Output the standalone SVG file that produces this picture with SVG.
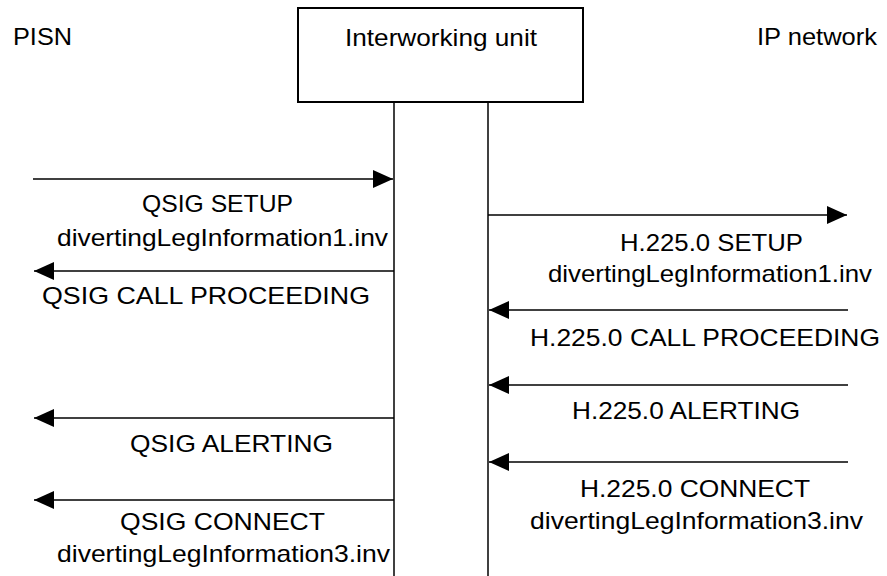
<svg xmlns="http://www.w3.org/2000/svg" width="887" height="576" viewBox="0 0 887 576">
<style>
text{font-family:"Liberation Sans",Arial,sans-serif;font-size:24px;fill:#000}
.ln{stroke:#000;stroke-width:1.5;fill:none}
.box{stroke:#000;stroke-width:2;fill:#fff}
</style>
<defs>
<marker id="ah" markerUnits="userSpaceOnUse" markerWidth="20" markerHeight="20" viewBox="0 0 20 20" refX="20" refY="10" orient="auto">
<path d="M0,1 L20,10 L0,19 Z" fill="#000"/>
</marker>
</defs>
<rect width="887" height="576" fill="#fff"/>
<g id="pisn"><text x="13" y="45" textLength="59" lengthAdjust="spacingAndGlyphs">PISN</text></g>
<g id="ipnet"><text x="757" y="45" textLength="120" lengthAdjust="spacingAndGlyphs">IP network</text></g>
<g id="iwu">
<rect class="box" x="298" y="8" width="285" height="94"/>
<text x="345" y="46" textLength="192" lengthAdjust="spacingAndGlyphs">Interworking unit</text>
</g>
<g id="lifelines">
<line class="ln" x1="394" y1="102" x2="394" y2="576"/>
<line class="ln" x1="488" y1="102" x2="488" y2="576"/>
</g>
<g id="connectors">
<line class="ln" x1="33" y1="179" x2="393" y2="179" marker-end="url(#ah)"/>
<line class="ln" x1="394" y1="271" x2="34" y2="271" marker-end="url(#ah)"/>
<line class="ln" x1="488" y1="215" x2="847" y2="215" marker-end="url(#ah)"/>
<line class="ln" x1="848" y1="310" x2="489" y2="310" marker-end="url(#ah)"/>
<line class="ln" x1="848" y1="385" x2="489" y2="385" marker-end="url(#ah)"/>
<line class="ln" x1="394" y1="418" x2="34" y2="418" marker-end="url(#ah)"/>
<line class="ln" x1="848" y1="462" x2="489" y2="462" marker-end="url(#ah)"/>
<line class="ln" x1="394" y1="500" x2="34" y2="500" marker-end="url(#ah)"/>
</g>
<g id="labels">
<text x="142" y="212" textLength="151" lengthAdjust="spacingAndGlyphs">QSIG SETUP</text>
<text x="57" y="246" textLength="331" lengthAdjust="spacingAndGlyphs">divertingLegInformation1.inv</text>
<text x="42" y="304" textLength="328" lengthAdjust="spacingAndGlyphs">QSIG CALL PROCEEDING</text>
<text x="620" y="251" textLength="183" lengthAdjust="spacingAndGlyphs">H.225.0 SETUP</text>
<text x="548" y="282" textLength="324" lengthAdjust="spacingAndGlyphs">divertingLegInformation1.inv</text>
<text x="530" y="346" textLength="350" lengthAdjust="spacingAndGlyphs">H.225.0 CALL PROCEEDING</text>
<text x="572" y="419" textLength="228" lengthAdjust="spacingAndGlyphs">H.225.0 ALERTING</text>
<text x="130" y="452" textLength="203" lengthAdjust="spacingAndGlyphs">QSIG ALERTING</text>
<text x="580" y="497" textLength="230" lengthAdjust="spacingAndGlyphs">H.225.0 CONNECT</text>
<text x="530" y="529" textLength="333" lengthAdjust="spacingAndGlyphs">divertingLegInformation3.inv</text>
<text x="120" y="530" textLength="205" lengthAdjust="spacingAndGlyphs">QSIG CONNECT</text>
<text x="57" y="562" textLength="333" lengthAdjust="spacingAndGlyphs">divertingLegInformation3.inv</text>
</g>
</svg>
